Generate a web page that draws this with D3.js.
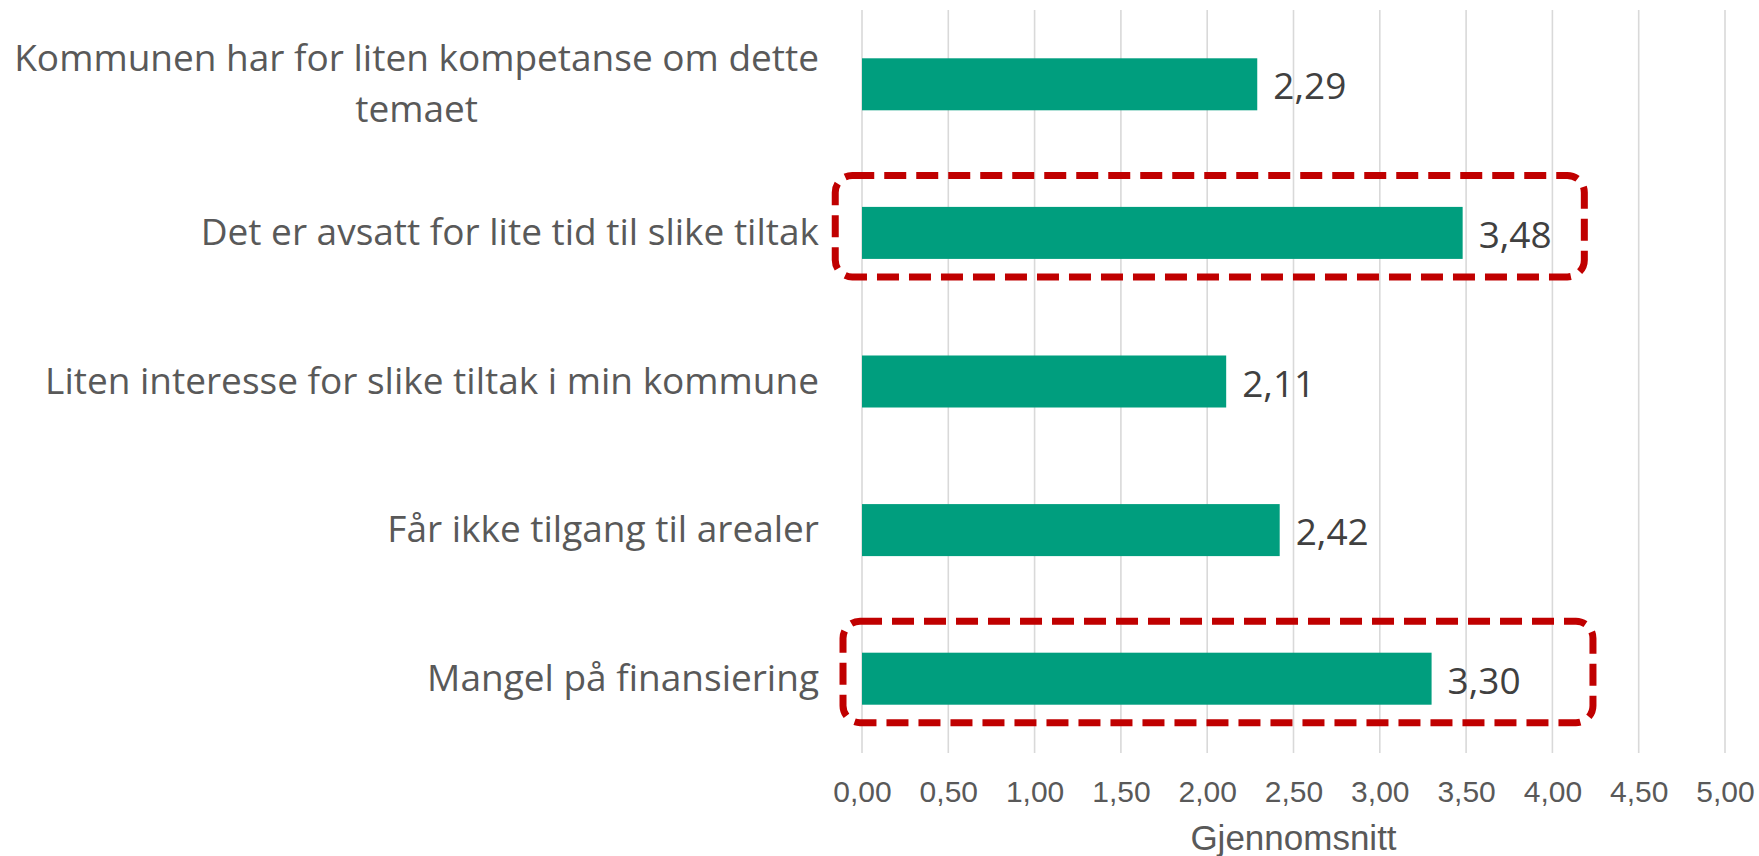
<!DOCTYPE html>
<html>
<head>
<meta charset="utf-8">
<script src="https://cdn.jsdelivr.net/npm/d3@7"></script>
<style>
  body { margin: 0; background: #fff; }
  svg { display: block; }
</style>
</head>
<body>
<svg id="chart" width="1759" height="856"></svg>
<script>
// data
const categories = [
  "Kommunen har for liten kompetanse om dette temaet",
  "Det er avsatt for lite tid til slike tiltak",
  "Liten interesse for slike tiltak i min kommune",
  "Får ikke tilgang til arealer",
  "Mangel på finansiering"
]
const values = [2.29, 3.48, 2.11, 2.42, 3.30]
const xTicks = [0, 0.5, 1, 1.5, 2, 2.5, 3, 3.5, 4, 4.5, 5]
const axisTitle = "Gjennomsnitt"
// red dashed boxes around these categories (x extent in axis units)
const highlighted = ["Det er avsatt for lite tid til slike tiltak", "Mangel på finansiering"]
const highlightFrom = [-0.155, -0.11]
const highlightTo = [4.185, 4.235]

const width = 1759
const height = 856
const margin = {top: 10, right: 34, bottom: 103, left: 862}

const svg = d3.select("#chart")

const x = d3.scaleLinear()
  .domain([0, 5])
  .range([margin.left, width - margin.right])

const y = d3.scaleBand()
  .domain(categories)
  .range([margin.top, height - margin.bottom])
  .paddingInner(0.65)
  .paddingOuter(0.325)

// gridlines
svg.append("g")
  .selectAll("line")
  .data(xTicks)
  .join("line")
  .attr("x1", d => x(d))
  .attr("x2", d => x(d))
  .attr("y1", margin.top)
  .attr("y2", height - margin.bottom)
  .attr("stroke", "#d9d9d9")
  .attr("stroke-width", 1.6)

// bars
svg.append("g")
  .selectAll("rect")
  .data(values)
  .join("rect")
  .attr("x", x(0))
  .attr("y", (d, i) => y(categories[i]))
  .attr("width", d => x(d) - x(0))
  .attr("height", y.bandwidth())
  .attr("fill", "#009e7e")

// value labels
svg.append("g")
  .selectAll("text")
  .data(values)
  .join("text")
  .attr("x", d => x(d) + 16)
  .attr("y", (d, i) => y(categories[i]) + y.bandwidth() / 2 + 15)
  .attr("font-family", "'Open Sans', sans-serif")
  .attr("font-size", 37)
  .attr("fill", "#404040")
  .text(d => d3.format(".2f")(d).replace(".", ","))

// category labels, wrapped and centred as a block whose right edge sits at labelRight
const labelRight = 819
const maxLabelW = 810
const catG = svg.append("g")
  .attr("font-family", "'Open Sans', sans-serif")
  .attr("font-size", 37)
  .attr("fill", "#595959")

categories.forEach(c => {
  const t = catG.append("text")
  const words = c.split(" ")
  let lines = []
  let line = []
  words.forEach(w => {
    line.push(w)
    t.text(line.join(" "))
    if (t.node().getComputedTextLength() > maxLabelW && line.length > 1) {
      line.pop()
      lines.push(line.join(" "))
      line = [w]
    }
  })
  lines.push(line.join(" "))
  t.text(null)

  const lineH = 51.5
  const cy = y(c) + y.bandwidth() / 2
  const spans = lines.map(l => t.append("tspan").text(l))
  let maxW = 0
  spans.forEach(s => { maxW = Math.max(maxW, s.node().getComputedTextLength()) })
  const firstBase = cy + 12 - (lines.length - 1) * lineH / 2
  if (lines.length === 1) {
    t.attr("text-anchor", "end")
    spans[0].attr("x", labelRight).attr("y", firstBase)
  } else {
    t.attr("text-anchor", "middle")
    spans.forEach((s, i) => s.attr("x", labelRight - maxW / 2).attr("y", firstBase + i * lineH))
  }
})

// x axis (labels only)
const xAxis = d3.axisBottom(x)
  .tickValues(xTicks)
  .tickSize(0)
  .tickPadding(0)
  .tickFormat(d => d3.format(".2f")(d).replace(".", ","))

const axisG = svg.append("g")
  .attr("transform", `translate(0, ${height - margin.bottom + 49})`)
  .call(xAxis)
axisG.select(".domain").remove()
axisG.selectAll("text")
  .attr("dy", 0)
  .attr("y", 0)
  .attr("font-family", "'Liberation Sans', Arial, sans-serif")
  .attr("font-size", 30)
  .attr("fill", "#595959")

svg.append("text")
  .attr("x", (x(0) + x(5)) / 2)
  .attr("y", height - 6)
  .attr("text-anchor", "middle")
  .attr("font-family", "'Liberation Sans', Arial, sans-serif")
  .attr("font-size", 35)
  .attr("fill", "#595959")
  .text(axisTitle)

// dashed highlight boxes
const boxG = svg.append("g")
highlighted.forEach((c, i) => {
  const cy = y(c) + y.bandwidth() / 2
  boxG.append("rect")
    .attr("x", x(highlightFrom[i]))
    .attr("y", cy - 57.5)
    .attr("width", x(highlightTo[i]) - x(highlightFrom[i]))
    .attr("height", 101.5)
    .attr("rx", 17)
    .attr("ry", 17)
    .attr("fill", "none")
    .attr("stroke", "#c00000")
    .attr("stroke-width", 7)
    .attr("stroke-dasharray", "22 10")
})
</script>
</body>
</html>
